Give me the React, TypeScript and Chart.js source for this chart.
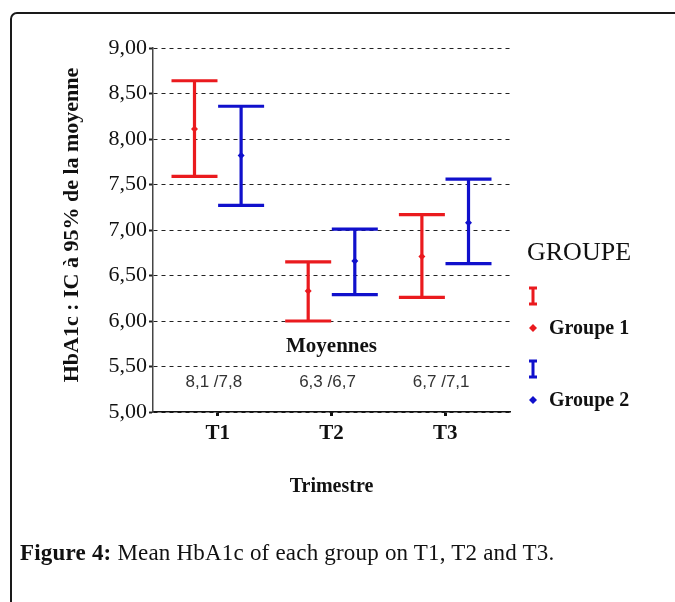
import React, { useEffect, useRef } from "react";
import { Chart, registerables } from "chart.js";

Chart.register(...registerables);

// ---- data ----
const categories = ["T1", "T2", "T3"];
const group1Mean = [8.11, 6.33, 6.71];
const group1Lower = [7.59, 6.0, 6.26];
const group1Upper = [8.64, 6.65, 7.17];
const group2Mean = [7.82, 6.66, 7.08];
const group2Lower = [7.27, 6.29, 6.63];
const group2Upper = [8.36, 7.01, 7.56];
const meanLabels = ["8,1 /7,8", "6,3 /6,7", "6,7 /7,1"];
const yTickValues = [5, 5.5, 6, 6.5, 7, 7.5, 8, 8.5, 9];
const groupNames = ["Groupe 1", "Groupe 2"];

const RED = "#ea1a1e";
const BLUE = "#1010cc";
const SERIF = "'Liberation Serif', 'Times New Roman', serif";
const SANS = "'Liberation Sans', Arial, sans-serif";
const OFFSET = 0.205;
const CAP = 23;

const groups = [
  { name: groupNames[0], color: RED, mean: group1Mean, lo: group1Lower, hi: group1Upper, dx: -OFFSET },
  { name: groupNames[1], color: BLUE, mean: group2Mean, lo: group2Lower, hi: group2Upper, dx: OFFSET },
];

const errorBarPlugin = {
  id: "errorBars",
  beforeDatasetsDraw(chart: any) {
    const { ctx, scales } = chart;
    const xs = scales.x;
    const ys = scales.y;
    groups.forEach((g) => {
      ctx.save();
      ctx.strokeStyle = g.color;
      ctx.lineWidth = 3.2;
      categories.forEach((_, i) => {
        const x = xs.getPixelForValue(i + 1 + g.dx);
        const yl = ys.getPixelForValue(g.lo[i]);
        const yh = ys.getPixelForValue(g.hi[i]);
        ctx.beginPath();
        ctx.moveTo(x, yl);
        ctx.lineTo(x, yh);
        ctx.moveTo(x - CAP, yl);
        ctx.lineTo(x + CAP, yl);
        ctx.moveTo(x - CAP, yh);
        ctx.lineTo(x + CAP, yh);
        ctx.stroke();
      });
      ctx.restore();
    });
  },
};

const textPlugin = {
  id: "texts",
  afterDraw(chart: any) {
    const { ctx, scales, chartArea } = chart;
    const xs = scales.x;
    const ys = scales.y;
    ctx.save();
    ctx.fillStyle = "#111";
    // y title
    ctx.save();
    ctx.translate(72, (chartArea.top + chartArea.bottom) / 2 - 5);
    ctx.rotate(-Math.PI / 2);
    ctx.font = `bold 22px ${SERIF}`;
    ctx.textAlign = "center";
    ctx.textBaseline = "middle";
    ctx.fillText("HbA1c : IC à 95% de la moyenne", 0, 0);
    ctx.restore();
    // x title
    ctx.font = `bold 20px ${SERIF}`;
    ctx.textAlign = "center";
    ctx.textBaseline = "middle";
    ctx.fillText("Trimestre", xs.getPixelForValue(2), 487);
    // Moyennes
    ctx.font = `bold 21px ${SERIF}`;
    ctx.fillText("Moyennes", xs.getPixelForValue(2), ys.getPixelForValue(5.72));
    // mean labels
    ctx.font = `17px ${SANS}`;
    ctx.fillStyle = "#333";
    meanLabels.forEach((t, i) => {
      ctx.fillText(t, xs.getPixelForValue(i + 1) - 4, ys.getPixelForValue(5.33));
    });
    // legend
    ctx.fillStyle = "#111";
    ctx.textAlign = "left";
    ctx.font = `26px ${SERIF}`;
    ctx.fillText("GROUPE", 527, 253);
    const rows = [
      { icon: [288, 304], item: 328 },
      { icon: [361, 377], item: 400 },
    ];
    groups.forEach((g, k) => {
      const r = rows[k];
      const cx = 533;
      ctx.strokeStyle = g.color;
      ctx.lineWidth = 3;
      ctx.beginPath();
      ctx.moveTo(cx, r.icon[0]);
      ctx.lineTo(cx, r.icon[1]);
      ctx.moveTo(cx - 4, r.icon[0]);
      ctx.lineTo(cx + 4, r.icon[0]);
      ctx.moveTo(cx - 4, r.icon[1]);
      ctx.lineTo(cx + 4, r.icon[1]);
      ctx.stroke();
      ctx.fillStyle = g.color;
      ctx.beginPath();
      ctx.moveTo(cx, r.item - 4);
      ctx.lineTo(cx + 4, r.item);
      ctx.lineTo(cx, r.item + 4);
      ctx.lineTo(cx - 4, r.item);
      ctx.closePath();
      ctx.fill();
      ctx.fillStyle = "#111";
      ctx.font = `bold 20px ${SERIF}`;
      ctx.fillText(g.name, 549, r.item + 1);
    });
    ctx.restore();
  },
};

export default function App() {
  const ref = useRef<HTMLCanvasElement | null>(null);
  useEffect(() => {
    if (!ref.current) return;
    const chart = new Chart(ref.current, {
      type: "scatter",
      data: {
        datasets: groups.map((g) => ({
          label: g.name,
          data: g.mean.map((m, i) => ({ x: i + 1 + g.dx, y: m })),
          backgroundColor: g.color,
          borderColor: g.color,
          pointStyle: "rectRot",
          pointRadius: 3.5,
          pointBorderWidth: 0,
        })),
      },
      options: {
        responsive: false,
        animation: false,
        events: [],
        layout: { padding: { top: 48, right: 165, left: 0, bottom: 0 } },
        plugins: { legend: { display: false }, tooltip: { enabled: false }, title: { display: false } },
        scales: {
          x: {
            type: "linear",
            position: "bottom",
            min: 0.43,
            max: 3.57,
            afterBuildTicks: (s: any) => {
              s.ticks = categories.map((_, i) => ({ value: i + 1 }));
            },
            afterFit: (s: any) => {
              s.height = 190;
            },
            ticks: {
              callback: (v: any) => categories[Math.round(v) - 1],
              font: { family: SERIF, size: 21, weight: "bold" },
              color: "#111",
              padding: 5,
              maxRotation: 0,
            },
            grid: { drawOnChartArea: false, drawTicks: true, tickLength: 4, tickColor: "#111", tickWidth: 3 },
            border: { display: true, color: "#111", width: 1.5 },
          },
          y: {
            type: "linear",
            min: 5,
            max: 9,
            afterBuildTicks: (s: any) => {
              s.ticks = yTickValues.map((v) => ({ value: v }));
            },
            afterFit: (s: any) => {
              s.width = 153;
            },
            ticks: {
              callback: (v: any) => Number(v).toFixed(2).replace(".", ","),
              font: { family: SERIF, size: 22 },
              color: "#111",
              padding: 2,
            },
            grid: { color: "#222", lineWidth: 1, drawTicks: true, tickLength: 4, tickColor: "#222", tickWidth: 2 },
            border: { display: true, color: "#444", width: 1.5, dash: [4, 4] },
          },
        },
      },
      plugins: [errorBarPlugin, textPlugin],
    });
    return () => chart.destroy();
  }, []);

  return (
    <div style={{ position: "fixed", left: 0, top: 0, width: 675, height: 602, overflow: "hidden", background: "#fff" }}>
      <div
        style={{
          position: "absolute",
          left: 10,
          top: 12,
          width: 1000,
          height: 1000,
          border: "2px solid #1a1a1a",
          borderRadius: 7,
          boxSizing: "border-box",
        }}
      />
      <canvas ref={ref} width={675} height={602} style={{ position: "absolute", left: 0, top: 0, width: 675, height: 602 }} />
      <div
        style={{
          position: "absolute",
          left: 20,
          top: 539,
          fontFamily: SERIF,
          fontSize: 23,
          letterSpacing: 0.2,
          color: "#111",
          whiteSpace: "nowrap",
          lineHeight: "28px",
        }}
      >
        <b>Figure 4:</b> Mean HbA1c of each group on T1, T2 and T3.
      </div>
    </div>
  );
}
